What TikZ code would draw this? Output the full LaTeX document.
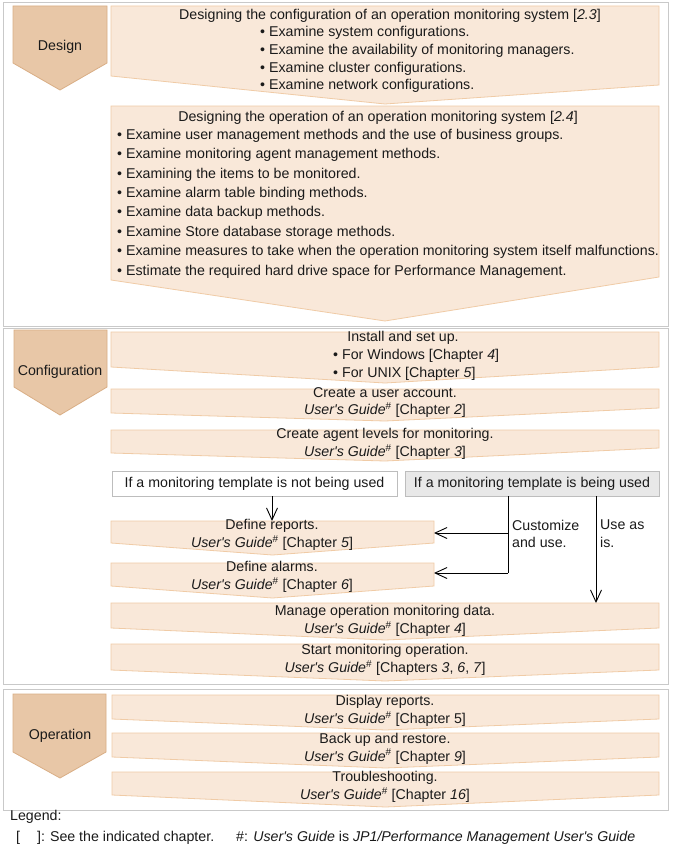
\documentclass[tikz,border=0pt]{standalone}
\usepackage{fontspec}
\setmainfont{Liberation Sans}[Ligatures=TeXOff]
\usetikzlibrary{arrows.meta}
\definecolor{chevfill}{HTML}{E8C7A7}
\definecolor{chevline}{HTML}{D9AE85}
\definecolor{flowfill}{HTML}{F9E8D9}
\definecolor{flowline}{HTML}{F0CBA6}
\definecolor{framec}{HTML}{C9C9C9}
\definecolor{condgray}{HTML}{E8E8E8}
\definecolor{condline}{HTML}{BDBDBD}
\definecolor{txt}{HTML}{1A1A1A}
\newcommand\flowshape[7]{%
  \draw[flow] (#2,#4) -- (#3,#4) -- (#3,#7) -- ({(#2+#3)/2},#6) -- (#2,#5) -- cycle;
  \coordinate (#1-nw) at (#2,#4);
  \coordinate (#1-se) at (#3,#5);}
\newcommand\ug{\textit{User's Guide}\textsuperscript{\#}}
\begin{document}
\begin{tikzpicture}[x=1pt,y=-1pt,
  every node/.style={text=txt,font=\fontsize{14.2}{17.8}\selectfont,inner sep=0pt},
  frame/.style={draw=framec,line width=1pt},
  chev/.style={draw=chevline,fill=chevfill,line width=0.8pt},
  flow/.style={draw=flowline,fill=flowfill,line width=0.8pt},
  condw/.style={draw=condline,fill=white,line width=0.8pt,minimum height=25pt},
  condg/.style={draw=condline,fill=condgray,line width=0.8pt,minimum height=25pt},
  twoline/.style={align=center},
  conn/.style={draw=black,line width=0.9pt,-{Straight Barb[length=12pt,width=11pt,line width=0.9pt]}},
  plain/.style={draw=black,line width=0.9pt}]
\useasboundingbox (0,0) rectangle (672,851);
\fill[white] (0,0) rectangle (672,851);
% frames
\draw[frame] (3,3) rectangle (668,326);
\draw[frame] (3,328) rectangle (668,684);
\draw[frame] (3,689) rectangle (668,810);
% chevrons
\draw[chev] (13,6) -- (107,6) -- (107,63) -- (60,90) -- (13,63) -- cycle;
\node (design) at (60,47) {Design};
\draw[chev] (14,330) -- (107,330) -- (107,387) -- (60,415) -- (14,387) -- cycle;
\node (config) at (60,372) {Configuration};
\draw[chev] (13,694) -- (106,694) -- (106,752) -- (60,778) -- (13,752) -- cycle;
\node (oper) at (60,736) {Operation};
% design boxes
\flowshape{D1}{111}{659}{6}{76}{104}{85}
\node (d1t) at (390,16) {Designing the configuration of an operation monitoring system [\textit{2.3}]};
\node[align=left,anchor=west,font=\fontsize{14.2}{17.7}\selectfont] (d1b) at (260,59.5)
 {• Examine system configurations.\\• Examine the availability of monitoring managers.\\• Examine cluster configurations.\\• Examine network configurations.};
\flowshape{D2}{111}{659}{106}{280}{321}{277}
\node (d2t) at (378,118) {Designing the operation of an operation monitoring system [\textit{2.4}]};
\node[align=left,anchor=west,font=\fontsize{14.2}{19.4}\selectfont] (d2b) at (117,203.5)
 {• Examine user management methods and the use of business groups.\\
  • Examine monitoring agent management methods.\\
  • Examining the items to be monitored.\\
  • Examine alarm table binding methods.\\
  • Examine data backup methods.\\
  • Examine Store database storage methods.\\
  • Examine measures to take when the operation monitoring system itself malfunctions.\\
  • Estimate the required hard drive space for Performance Management.};
% configuration boxes
\flowshape{I}{111}{659}{332}{367}{383}{367}
\node (it) at (403,338) {Install and set up.};
\node[align=left,anchor=west,font=\fontsize{14.2}{18}\selectfont] (ib) at (333,365)
 {• For Windows [Chapter \textit{4}]\\• For UNIX [Chapter \textit{5}]};
\flowshape{C1}{111}{659}{389}{413}{421}{408}
\node[twoline] (c1t) at (385,402.5) {Create a user account.\\\ug{} [Chapter \textit{2}]};
\flowshape{C2}{111}{659}{430}{453}{461}{448}
\node[twoline] (c2t) at (385,444) {Create agent levels for monitoring.\\\ug{} [Chapter \textit{3}]};
% conditions
\node[condw,minimum width=285pt] (notused) at (254.5,483.5) {If a monitoring template is not being used};
\node[condg,minimum width=254pt] (used) at (532,483.5) {If a monitoring template is being used};
\flowshape{R}{111}{434}{521}{543}{555}{543}
\node[twoline] (rt) at (272,535) {Define reports.\\\ug{} [Chapter \textit{5}]};
\flowshape{A}{111}{434}{563}{586}{598}{586}
\node[twoline] (at) at (272,577) {Define alarms.\\\ug{} [Chapter \textit{6}]};
\flowshape{M}{111}{659}{603}{628}{640}{628}
\node[twoline] (mt) at (385,621) {Manage operation monitoring data.\\\ug{} [Chapter \textit{4}]};
\flowshape{S}{111}{659}{644}{670}{681}{670}
\node[twoline] (st) at (385,660) {Start monitoring operation.\\\ug{} [Chapters \textit{3}, \textit{6}, \textit{7}]};
% connectors
\coordinate (nx) at (272,496);
\coordinate (cx) at (508,496);
\coordinate (b1) at (508,533);
\coordinate (b2) at (508,573);
\coordinate (ux) at (596,496);
\draw[conn] (notused.south -| nx) -- (nx |- R-nw);
\draw[plain] (used.south -| cx) -- (b2);
\draw[conn] (b1) -- (b1 -| R-se);
\draw[conn] (b2) -- (b2 -| A-se);
\draw[conn] (used.south -| ux) -- (ux |- M-nw);
\node[align=left,anchor=west] (cust) at (512,534) {Customize\\and use.};
\node[align=left,anchor=west] (useas) at (600,534) {Use as\\is.};
% operation boxes
\flowshape{O1}{112}{659}{695}{719}{730}{719}
\node[twoline] (o1t) at (385,711) {Display reports.\\\ug{} [Chapter 5]};
\flowshape{O2}{112}{659}{733}{757}{768}{757}
\node[twoline] (o2t) at (385,748.5) {Back up and restore.\\\ug{} [Chapter \textit{9}]};
\flowshape{O3}{112}{659}{772}{795}{807}{795}
\node[twoline] (o3t) at (385,787) {Troubleshooting.\\\ug{} [Chapter \textit{16}]};
% legend
\node[anchor=west] (leg) at (10,817) {Legend:};
\node[anchor=west] (leg1) at (16,838) {[\hspace{17pt}]:\hspace{5pt}See the indicated chapter.};
\node[anchor=west] (leg2) at (236,838) {\#: \textit{User's Guide} is \textit{JP1/Performance Management User's Guide}};
\end{tikzpicture}
\end{document}
